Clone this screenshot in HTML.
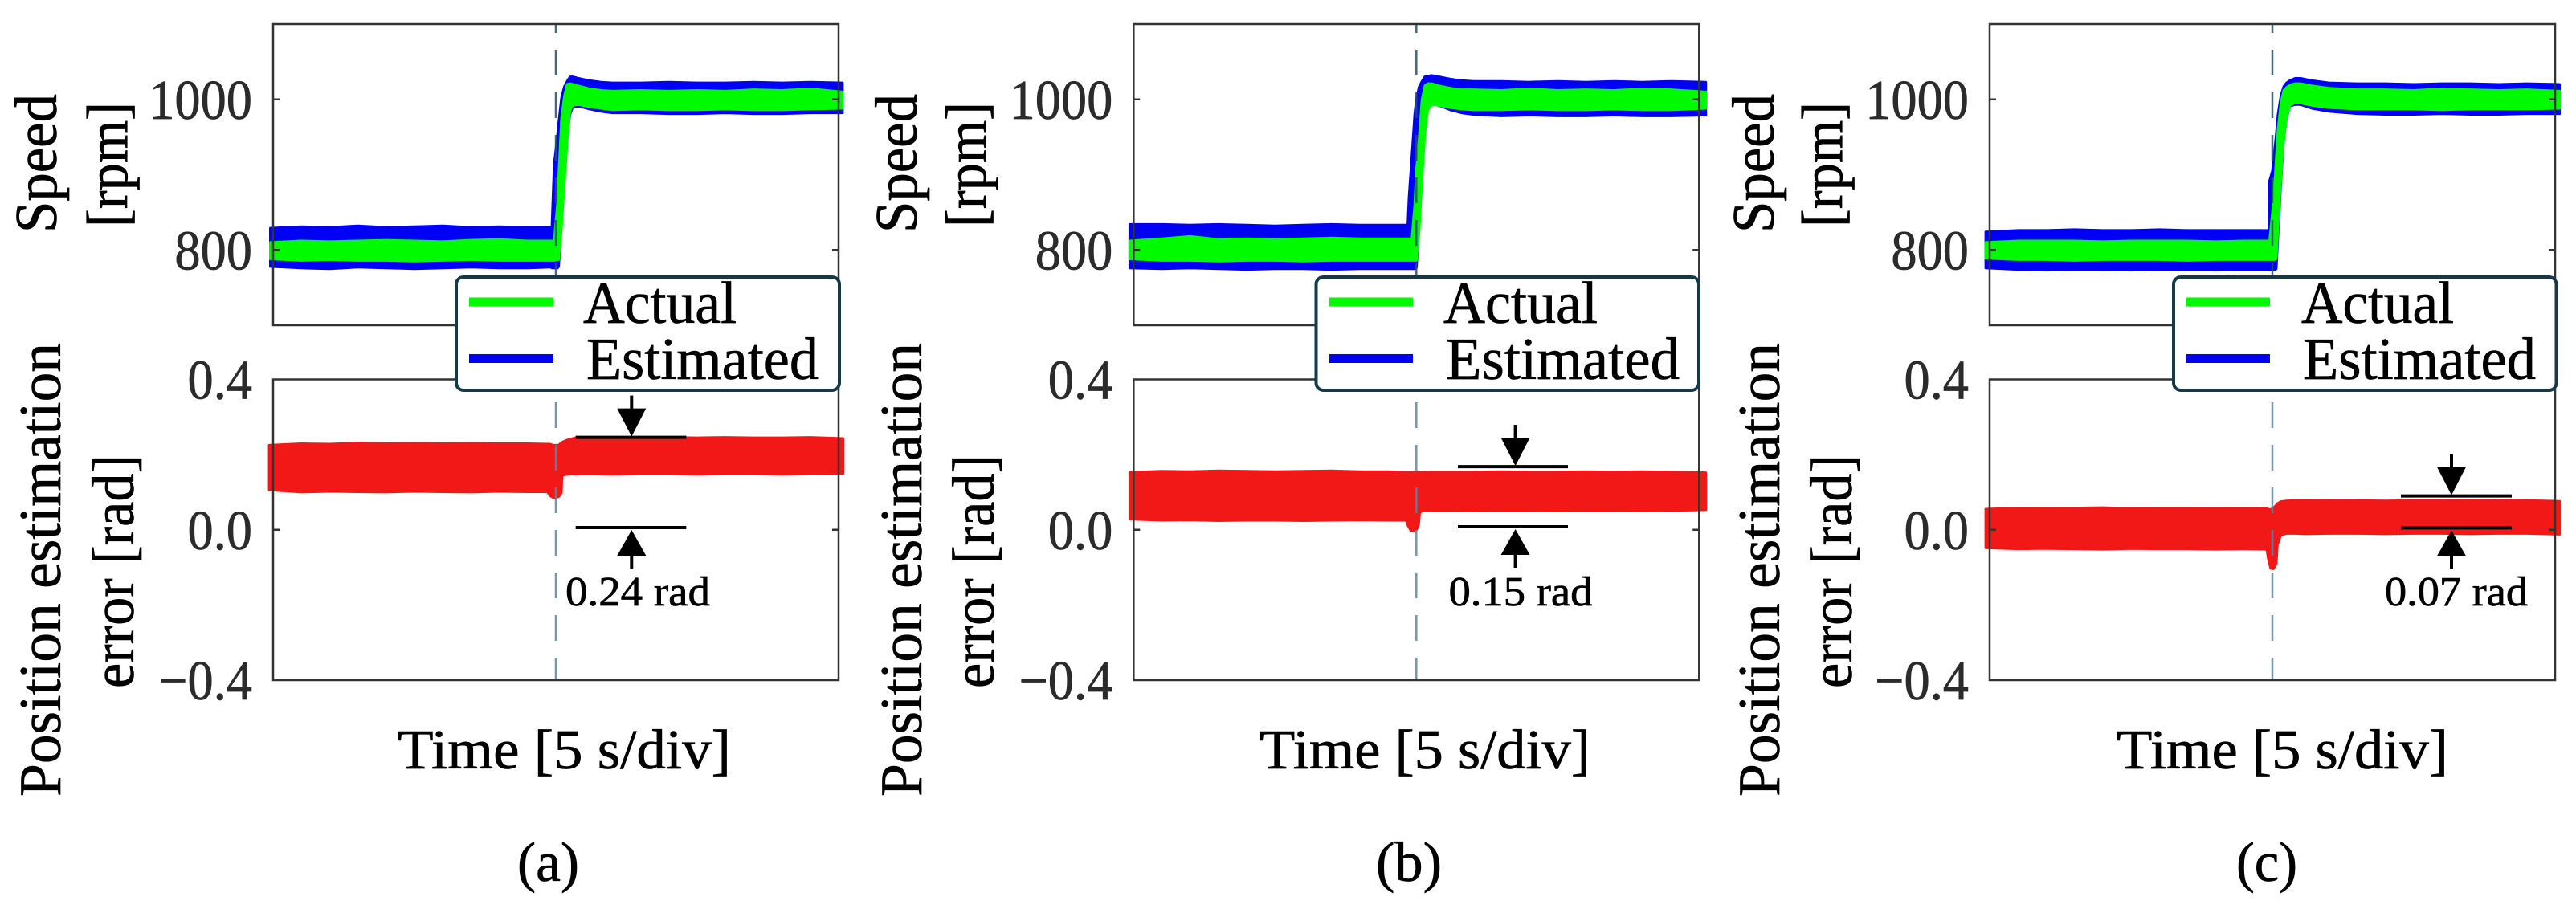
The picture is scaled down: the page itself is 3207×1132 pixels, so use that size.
<!DOCTYPE html>
<html lang="en">
<head>
<meta charset="utf-8">
<title>Speed and position estimation error</title>
<style>
html,body{margin:0;padding:0;background:#fff;width:3207px;height:1132px;overflow:hidden}
svg{display:block;font-family:"Liberation Serif",serif}
svg text{stroke:currentColor;stroke-width:0.7px}
</style>
</head>
<body>
<svg id="figure" xmlns="http://www.w3.org/2000/svg" width="3207" height="1132" viewBox="0 0 3207 1132" color="#000">
  <rect width="3207" height="1132" fill="#fff"/>
  <g id="marks"></g>

  <g fill="#000">
    <text transform="translate(70,290) rotate(-90)" font-size="74" textLength="173" lengthAdjust="spacingAndGlyphs">Speed</text>
    <text transform="translate(158,283) rotate(-90)" font-size="72" textLength="156" lengthAdjust="spacingAndGlyphs">[rpm]</text>
    <text transform="translate(75,992) rotate(-90)" font-size="74" textLength="565" lengthAdjust="spacingAndGlyphs">Position estimation</text>
    <text transform="translate(166,857) rotate(-90)" font-size="74" textLength="291" lengthAdjust="spacingAndGlyphs">error [rad]</text>
    <text x="495" y="957" font-size="70" textLength="415" lengthAdjust="spacingAndGlyphs">Time [5 s/div]</text>
    <text x="644" y="1097" font-size="70" textLength="77" lengthAdjust="spacingAndGlyphs">(a)</text>
  </g>
  <g fill="#000">
    <text transform="translate(1141,290) rotate(-90)" font-size="74" textLength="173" lengthAdjust="spacingAndGlyphs">Speed</text>
    <text transform="translate(1227,283) rotate(-90)" font-size="72" textLength="156" lengthAdjust="spacingAndGlyphs">[rpm]</text>
    <text transform="translate(1147,992) rotate(-90)" font-size="74" textLength="565" lengthAdjust="spacingAndGlyphs">Position estimation</text>
    <text transform="translate(1237,857) rotate(-90)" font-size="74" textLength="291" lengthAdjust="spacingAndGlyphs">error [rad]</text>
    <text x="1568" y="957" font-size="70" textLength="412" lengthAdjust="spacingAndGlyphs">Time [5 s/div]</text>
    <text x="1713" y="1097" font-size="70" textLength="82" lengthAdjust="spacingAndGlyphs">(b)</text>
  </g>
  <g fill="#000">
    <text transform="translate(2208,290) rotate(-90)" font-size="74" textLength="173" lengthAdjust="spacingAndGlyphs">Speed</text>
    <text transform="translate(2293,283) rotate(-90)" font-size="72" textLength="156" lengthAdjust="spacingAndGlyphs">[rpm]</text>
    <text transform="translate(2215,992) rotate(-90)" font-size="74" textLength="565" lengthAdjust="spacingAndGlyphs">Position estimation</text>
    <text transform="translate(2305,857) rotate(-90)" font-size="74" textLength="291" lengthAdjust="spacingAndGlyphs">error [rad]</text>
    <text x="2635" y="957" font-size="70" textLength="413" lengthAdjust="spacingAndGlyphs">Time [5 s/div]</text>
    <text x="2784" y="1097" font-size="70" textLength="76" lengthAdjust="spacingAndGlyphs">(c)</text>
  </g>

  <g>
    <rect x="568" y="345" width="477" height="141" rx="9" fill="#fff" stroke="#16394a" stroke-width="4"/>
    <rect x="584" y="370.5" width="105" height="11" fill="#00fb00"/>
    <rect x="584" y="441" width="105" height="11" fill="#0000f5"/>
    <text x="726" y="402" font-size="74" textLength="191" lengthAdjust="spacingAndGlyphs">Actual</text>
    <text x="730" y="472" font-size="74" textLength="289" lengthAdjust="spacingAndGlyphs">Estimated</text>
  </g>
  <g>
    <rect x="1638.5" y="345" width="476.5" height="141" rx="9" fill="#fff" stroke="#16394a" stroke-width="4"/>
    <rect x="1655" y="370.5" width="104" height="11" fill="#00fb00"/>
    <rect x="1655" y="441" width="104" height="11" fill="#0000f5"/>
    <text x="1797" y="402" font-size="74" textLength="192" lengthAdjust="spacingAndGlyphs">Actual</text>
    <text x="1800" y="472" font-size="74" textLength="291" lengthAdjust="spacingAndGlyphs">Estimated</text>
  </g>
  <g>
    <rect x="2706" y="345" width="476.5" height="141" rx="9" fill="#fff" stroke="#16394a" stroke-width="4"/>
    <rect x="2722" y="370.5" width="104" height="11" fill="#00fb00"/>
    <rect x="2722" y="441" width="104" height="11" fill="#0000f5"/>
    <text x="2865" y="402" font-size="74" textLength="190" lengthAdjust="spacingAndGlyphs">Actual</text>
    <text x="2867" y="472" font-size="74" textLength="290" lengthAdjust="spacingAndGlyphs">Estimated</text>
  </g>
</svg>

<script>
// Axis ticks
const speedTicks = [1000, 800];
const speedTickLabels = ['1000', '800'];
const errorTicks = [0.4, 0, -0.4];
const errorTickLabels = ['0.4', '0.0', '\u22120.4'];

// Panel (a): speed envelopes, time in divisions, rpm
const timeA = [-0.05,0.5,1,1.5,2,2.5,3,3.5,4,4.5,4.92,4.93,4.97,5.03,5.05,5.1,5.15,5.2,5.25,5.3,5.4,5.6,5.8,6,6.5,7,7.5,8,8.5,9,9.5,10.07];
const estimatedUpperA = [829,831,830,832,830,831,832,830,831,830,830,832,914,953,968,1002,1017,1024,1030,1030,1028,1025,1023,1022,1022,1023,1022,1022,1023,1022,1023,1022];
const estimatedLowerA = [778,776,775,777,776,775,776,777,776,776,777,776,776,776,778,834,893,950,980,990,991,987,984,982,982,981,981,982,981,981,982,982];
const actualUpperA = [810,812,811,812,813,812,811,813,814,812,812,812,812,863,897,975,1004,1020,1021,1020,1018,1014,1012,1011,1012,1011,1012,1011,1013,1012,1014,1010];
const actualLowerA = [788,786,787,786,786,785,786,787,786,786,786,786,786,787,787,829,889,944,985,992,993,990,988,986,987,986,986,987,986,986,987,988];

// Panel (a): position-error envelope, rad
const errTimeA = [-0.07,0.5,1,1.5,2,2.5,3,3.5,4,4.5,4.85,4.9,4.95,5,5.05,5.1,5.11,5.2,5.3,5.35,5.5,6,6.5,7,7.5,8,8.5,9,9.5,10.08];
const errUpperA = [0.225,0.229,0.228,0.231,0.229,0.23,0.229,0.23,0.229,0.229,0.228,0.228,0.225,0.225,0.225,0.232,0.233,0.239,0.243,0.245,0.245,0.246,0.245,0.246,0.245,0.246,0.245,0.245,0.246,0.243];
const errLowerA = [0.106,0.1,0.102,0.101,0.1,0.102,0.101,0.1,0.102,0.101,0.101,0.09,0.086,0.086,0.088,0.098,0.145,0.147,0.148,0.147,0.148,0.147,0.148,0.148,0.147,0.148,0.148,0.147,0.148,0.15];

// Panel (b)
const timeB = [-0.07,0.5,1,1.5,2,2.5,3,3.5,4,4.5,4.84,4.85,4.87,4.92,4.97,5,5.05,5.1,5.15,5.2,5.27,5.4,5.6,5.8,6,6.5,7,7.5,8,8.5,9,9.5,10.12];
const estimatedUpperB = [834,834,833,834,833,832,833,834,833,833,833,836,870,925,980,1000,1017,1024,1030,1031,1032,1030,1027,1025,1024,1024,1023,1024,1023,1024,1023,1024,1023];
const estimatedLowerB = [776,775,776,775,774,775,775,774,775,775,775,775,775,775,775,776,830,900,960,988,994,992,986,982,980,978,979,978,978,979,978,978,979];
const actualUpperB = [812,815,818,814,815,814,815,816,815,815,815,815,815,815,860,905,950,1000,1018,1021,1021,1018,1015,1013,1013,1012,1014,1012,1013,1012,1014,1013,1010];
const actualLowerB = [788,786,786,785,786,786,785,786,786,786,786,786,786,786,786,786,825,895,955,985,993,992,989,987,986,986,987,986,986,987,986,986,988];
const errTimeB = [-0.07,0.5,1,1.5,2,2.5,3,3.5,4,4.5,4.82,4.85,4.9,4.95,5,5.04,5.06,5.1,5.3,5.5,6,6.5,7,7.5,8,8.5,9,9.5,10.12];
const errUpperB = [0.153,0.156,0.155,0.157,0.156,0.155,0.156,0.157,0.155,0.155,0.153,0.153,0.153,0.153,0.153,0.153,0.153,0.153,0.154,0.154,0.154,0.155,0.154,0.154,0.155,0.154,0.155,0.154,0.152];
const errLowerB = [0.028,0.025,0.026,0.024,0.025,0.025,0.024,0.025,0.026,0.025,0.025,0.012,-0.002,-0.003,0,0.012,0.045,0.05,0.051,0.051,0.05,0.051,0.051,0.05,0.051,0.051,0.05,0.051,0.053];

// Panel (c)
const timeC = [-0.07,0.5,1,1.5,2,2.5,3,3.5,4,4.5,4.94,4.95,5,5.05,5.07,5.1,5.15,5.2,5.25,5.31,5.4,5.5,5.7,6,6.5,7,7.5,8,8.5,9,9.5,10.08];
const estimatedUpperC = [824,826,826,827,826,826,827,826,826,826,826,892,905,940,955,980,1005,1017,1022,1025,1028,1028,1025,1022,1021,1021,1020,1021,1021,1020,1021,1020];
const estimatedLowerC = [776,774,773,774,774,773,774,774,773,774,774,774,774,774,775,820,890,945,975,991,993,993,988,984,981,980,980,981,980,980,981,981];
const actualUpperC = [810,812,812,812,811,812,812,812,811,812,812,812,850,900,925,960,995,1012,1016,1019,1021,1021,1018,1015,1013,1013,1012,1014,1013,1012,1013,1011];
const actualLowerC = [789,787,787,786,787,787,787,786,787,787,787,787,787,787,788,830,895,945,975,992,995,995,992,989,987,987,987,986,987,987,987,988];
const errTimeC = [-0.07,0.5,1,1.5,2,2.5,3,3.5,4,4.5,4.9,4.93,4.97,5.02,5.07,5.09,5.15,5.25,5.4,5.6,6,6.5,7,7.5,8,8.5,9,9.5,10.08];
const errUpperC = [0.055,0.058,0.057,0.058,0.059,0.057,0.058,0.058,0.057,0.058,0.057,0.055,0.054,0.058,0.066,0.07,0.075,0.077,0.078,0.079,0.078,0.078,0.077,0.078,0.078,0.079,0.078,0.078,0.076];
const errLowerC = [-0.048,-0.051,-0.05,-0.051,-0.052,-0.05,-0.051,-0.051,-0.052,-0.051,-0.052,-0.08,-0.103,-0.104,-0.09,-0.04,-0.014,-0.01,-0.01,-0.011,-0.01,-0.01,-0.011,-0.01,-0.01,-0.011,-0.01,-0.01,-0.012];

// Offset annotations: upper bound, lower bound in rad, and printed value
const annotationBoundsA = [0.246, 0.006];
const annotationBoundsB = [0.168, 0.008];
const annotationBoundsC = [0.09, 0.005];
const annotationLabels = ['0.24 rad', '0.15 rad', '0.07 rad'];

// Figure geometry
const panelLefts = [340, 1411.3, 2477];
const panelNames = ['a', 'b', 'c'];
const panelWidth = 704;
const speedBox = { top: 30, bottom: 405, min: 700, max: 1100 };
const errorBox = { top: 472.5, bottom: 847, min: -0.4, max: 0.4 };
const timeDomain = 10;
const annotationGeometry = [
  { x1: 716.7, x2: 854.3, cx: 786.3, tx: 704, tw: 180 },
  { x1: 1815, x2: 1952, cx: 1886.6, tx: 1803.5, tw: 179 },
  { x1: 2989, x2: 3127, cx: 3052, tx: 2969, tw: 178 }
];

const panelSeries = [
  { t: timeA, eu: estimatedUpperA, el: estimatedLowerA, au: actualUpperA, al: actualLowerA, et: errTimeA, ru: errUpperA, rl: errLowerA, ann: annotationBoundsA },
  { t: timeB, eu: estimatedUpperB, el: estimatedLowerB, au: actualUpperB, al: actualLowerB, et: errTimeB, ru: errUpperB, rl: errLowerB, ann: annotationBoundsB },
  { t: timeC, eu: estimatedUpperC, el: estimatedLowerC, au: actualUpperC, al: actualLowerC, et: errTimeC, ru: errUpperC, rl: errLowerC, ann: annotationBoundsC }
];

const NS = 'http://www.w3.org/2000/svg';
const marks = document.getElementById('marks');

function make(tag, parent, attrs) {
  const el = document.createElementNS(NS, tag);
  for (const k in attrs) el.setAttribute(k, attrs[k]);
  parent.appendChild(el);
  return el;
}
function speedY(v) {
  return speedBox.bottom - (v - speedBox.min) / (speedBox.max - speedBox.min) * (speedBox.bottom - speedBox.top);
}
function errorY(v) {
  return errorBox.bottom - (v - errorBox.min) / (errorBox.max - errorBox.min) * (errorBox.bottom - errorBox.top);
}
function bandPoints(t, upper, lower, xFn, yFn) {
  const pts = [];
  for (let i = 0; i < t.length; i++) pts.push(xFn(t[i]).toFixed(1) + ',' + yFn(upper[i]).toFixed(1));
  for (let i = t.length - 1; i >= 0; i--) pts.push(xFn(t[i]).toFixed(1) + ',' + yFn(lower[i]).toFixed(1));
  return pts.join(' ');
}

panelLefts.forEach(function (left, p) {
  const s = panelSeries[p];
  const tag = panelNames[p];
  const xOf = function (t) { return left + t / timeDomain * panelWidth; };
  const g = make('g', marks, {});
  
  

  // Estimated speed band
  const blue = make('polygon', g, { points: bandPoints(s.t, s.eu, s.el, xOf, speedY), fill: '#0000f5', stroke: '#0000f5', 'stroke-width': 3, 'stroke-linejoin': 'round' });
  
  

  // Actual speed band
  const green = make('polygon', g, { points: bandPoints(s.t, s.au, s.al, xOf, speedY), fill: '#00fb00', stroke: '#00fb00', 'stroke-width': 3, 'stroke-linejoin': 'round' });
  
  

  // Position error band
  const red = make('polygon', g, { points: bandPoints(s.et, s.ru, s.rl, xOf, errorY), fill: '#f21818', stroke: '#f21818', 'stroke-width': 3, 'stroke-linejoin': 'round' });
  
  

  // Step-instant marker
  const stepX = xOf(5);
  const dashTop = make('line', g, { x1: stepX, x2: stepX, y1: speedBox.top, y2: speedBox.bottom, stroke: '#245069', 'stroke-width': 2.5, 'stroke-dasharray': '32 21', 'stroke-dashoffset': 21, opacity: 0.85 });
  
  
  const dashBottom = make('line', g, { x1: stepX, x2: stepX, y1: errorBox.top, y2: errorBox.bottom, stroke: '#5f83a0', 'stroke-width': 2.5, 'stroke-dasharray': '32 21', 'stroke-dashoffset': 24.5, opacity: 0.85 });
  
  

  // Axes frames
  const boxes = [speedBox, errorBox];
  boxes.forEach(function (b, i) {
    const frame = make('rect', g, { x: left, y: b.top, width: panelWidth, height: b.bottom - b.top, fill: 'none', stroke: '#333', 'stroke-width': 2.5 });
    
    
  });

  // Speed ticks and labels
  speedTicks.forEach(function (v, i) {
    const y = speedY(v);
    const tl = make('line', g, { x1: left, x2: left + 8, y1: y, y2: y, stroke: '#333', 'stroke-width': 2.5 });
    
    
    const tr = make('line', g, { x1: left + panelWidth - 8, x2: left + panelWidth, y1: y, y2: y, stroke: '#333', 'stroke-width': 2.5 });
    
    
    const lab = make('text', g, { transform: 'translate(' + (left - 26) + ',' + (y + 24) + ') scale(0.92,1)', 'text-anchor': 'end', 'font-size': 70, fill: '#2b2b2b', color: '#2b2b2b' });
    
    
    lab.textContent = speedTickLabels[i];
  });

  // Error ticks and labels
  errorTicks.forEach(function (v, i) {
    const y = errorY(v);
    if (v === 0) {
      const tl = make('line', g, { x1: left, x2: left + 8, y1: y, y2: y, stroke: '#333', 'stroke-width': 2.5 });
      
      
      const tr = make('line', g, { x1: left + panelWidth - 8, x2: left + panelWidth, y1: y, y2: y, stroke: '#333', 'stroke-width': 2.5 });
      
      
    }
    const lab = make('text', g, { transform: 'translate(' + (left - 26) + ',' + (y + 24) + ') scale(0.92,1)', 'text-anchor': 'end', 'font-size': 70, fill: '#2b2b2b', color: '#2b2b2b' });
    
    
    lab.textContent = errorTickLabels[i];
  });

  // Offset annotation
  const ag = annotationGeometry[p];
  const yU = errorY(s.ann[0]);
  const yL = errorY(s.ann[1]);
  const ann = make('g', g, {});
  
  
  make('line', ann, { x1: ag.x1, x2: ag.x2, y1: yU, y2: yU, stroke: '#000', 'stroke-width': 4 });
  make('line', ann, { x1: ag.x1, x2: ag.x2, y1: yL, y2: yL, stroke: '#000', 'stroke-width': 4 });
  make('line', ann, { x1: ag.cx, x2: ag.cx, y1: yU - 52, y2: yU - 20, stroke: '#000', 'stroke-width': 4 });
  make('line', ann, { x1: ag.cx, x2: ag.cx, y1: yL + 20, y2: yL + 51, stroke: '#000', 'stroke-width': 4 });
  make('polygon', ann, { points: (ag.cx - 18) + ',' + (yU - 36) + ' ' + (ag.cx + 18) + ',' + (yU - 36) + ' ' + ag.cx + ',' + (yU - 1), fill: '#000' });
  make('polygon', ann, { points: (ag.cx - 18) + ',' + (yL + 35) + ' ' + (ag.cx + 18) + ',' + (yL + 35) + ' ' + ag.cx + ',' + (yL + 3), fill: '#000' });
  const annText = make('text', ann, { x: ag.tx, y: 754, 'font-size': 52, textLength: ag.tw, lengthAdjust: 'spacingAndGlyphs', fill: '#000' });
  
  
  annText.textContent = annotationLabels[p];
});
</script>
</body>
</html>
